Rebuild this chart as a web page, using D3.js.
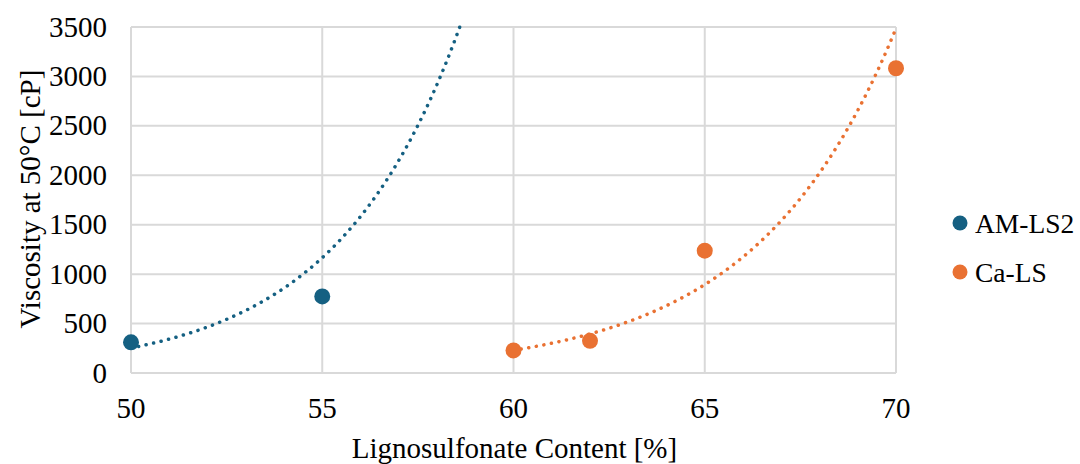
<!DOCTYPE html>
<html>
<head>
<meta charset="utf-8">
<script src="https://cdn.jsdelivr.net/npm/d3@7"></script>
<style>
  body { margin: 0; background: #fff; }
  text { font-family: "Liberation Serif", "Times New Roman", serif; fill: #000; }
</style>
</head>
<body>
<script>
// data
var amX = [50, 55, 60];          // last point lies above the axis max (hidden)
var amY = [310, 775, 6600];
var caX = [60, 62, 65, 70];
var caY = [228, 325, 1237, 3083];
var seriesNames = ["AM-LS2", "Ca-LS"];
var seriesColors = ["#156082", "#E97132"];
var xTicks = [50, 55, 60, 65, 70];
var yTicks = [0, 500, 1000, 1500, 2000, 2500, 3000, 3500];

var svgWidth = 1080;
var svgHeight = 464;
var margin = { top: 27, right: 184, bottom: 91, left: 131 };
var width = svgWidth - margin.left - margin.right;
var height = svgHeight - margin.top - margin.bottom;

var svg = d3.select("body").append("svg")
  .attr("width", svgWidth)
  .attr("height", svgHeight);

svg.append("defs").append("clipPath").attr("id", "plotclip")
  .append("rect").attr("x", -12).attr("y", -2).attr("width", width + 24).attr("height", height + 14);

var chartGroup = svg.append("g")
  .attr("transform", `translate(${margin.left}, ${margin.top})`);

var x = d3.scaleLinear().domain([50, 70]).range([0, width]);
var y = d3.scaleLinear().domain([0, 3500]).range([height, 0]);

// gridlines
chartGroup.append("g").selectAll("line").data(yTicks).enter().append("line")
  .attr("x1", 0).attr("x2", width)
  .attr("y1", d => y(d)).attr("y2", d => y(d))
  .attr("stroke", "#d9d9d9").attr("stroke-width", 2);
chartGroup.append("g").selectAll("line").data(xTicks).enter().append("line")
  .attr("x1", d => x(d)).attr("x2", d => x(d))
  .attr("y1", 0).attr("y2", height)
  .attr("stroke", "#d9d9d9").attr("stroke-width", 2);

// tick labels
chartGroup.append("g").selectAll("text").data(yTicks).enter().append("text")
  .attr("x", -24).attr("y", d => y(d)).attr("dy", "0.33em")
  .attr("text-anchor", "end").style("font-size", "29px")
  .text(d => d);
chartGroup.append("g").selectAll("text").data(xTicks).enter().append("text")
  .attr("x", d => x(d)).attr("y", height + 45)
  .attr("text-anchor", "middle").style("font-size", "29px")
  .text(d => d);

// axis titles
chartGroup.append("text")
  .attr("x", width / 2 + 1).attr("y", height + 85)
  .attr("text-anchor", "middle").style("font-size", "29px")
  .text("Lignosulfonate Content [%]");
chartGroup.append("text")
  .attr("transform", "rotate(-90)")
  .attr("x", -height / 2 + 1).attr("y", -margin.left + 40)
  .attr("text-anchor", "middle").style("font-size", "29px")
  .text("Viscosity at 50°C [cP]");

// exponential least-squares trendline (like Excel's)
function expFit(xs, ys) {
  var ls = ys.map(v => Math.log(v));
  var mx = d3.mean(xs), ml = d3.mean(ls);
  var sxy = d3.sum(xs, (v, i) => (v - mx) * (ls[i] - ml));
  var sxx = d3.sum(xs, v => (v - mx) * (v - mx));
  var b = sxy / sxx;
  var a = ml - b * mx;
  return v => Math.exp(a + b * v);
}

var plot = chartGroup.append("g").attr("clip-path", "url(#plotclip)");
var line = d3.line().x(d => x(d[0])).y(d => y(d[1]));

[[amX, amY], [caX, caY]].forEach(function (s, i) {
  var f = expFit(s[0], s[1]);
  var x0 = d3.min(s[0]), x1 = d3.max(s[0]);
  var pts = d3.range(0, 201).map(k => {
    var xv = x0 + (x1 - x0) * k / 200;
    return [xv, f(xv)];
  });
  plot.append("path").datum(pts)
    .attr("d", line)
    .attr("fill", "none")
    .attr("stroke", seriesColors[i])
    .attr("stroke-width", 3.5)
    .attr("stroke-linecap", "round")
    .attr("stroke-dasharray", "0.1 7.6");
});

[[amX, amY], [caX, caY]].forEach(function (s, i) {
  plot.append("g").selectAll("circle")
    .data(s[0].map((v, k) => [v, s[1][k]]).filter(d => d[1] <= 3500))
    .enter().append("circle")
    .attr("cx", d => x(d[0])).attr("cy", d => y(d[1]))
    .attr("r", 8)
    .attr("fill", seriesColors[i]);
});

// legend
var legend = svg.append("g").attr("transform", "translate(960, 223)");
seriesNames.forEach(function (name, i) {
  var row = legend.append("g").attr("transform", `translate(0, ${i * 49})`);
  row.append("circle").attr("r", 7.5).attr("fill", seriesColors[i]);
  row.append("text").attr("x", 15).attr("dy", "0.35em")
    .style("font-size", "27.5px").text(name);
});
</script>
</body>
</html>
